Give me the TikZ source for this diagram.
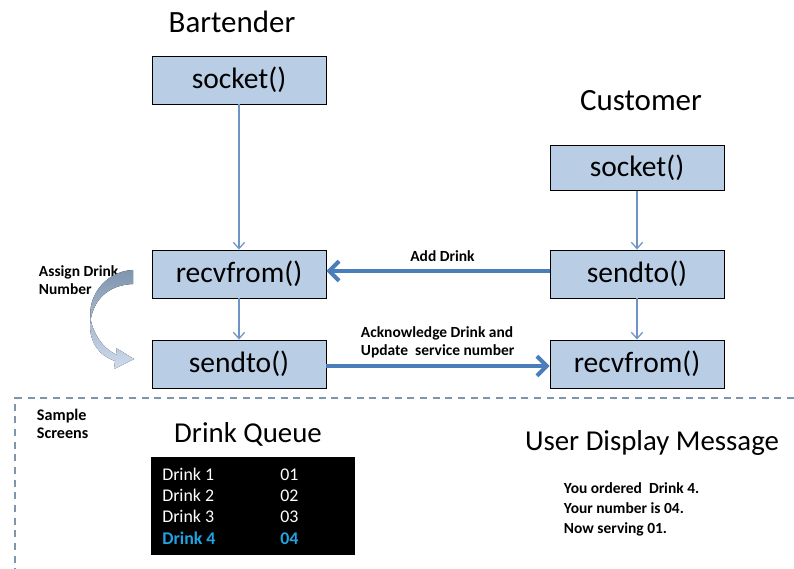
\documentclass[tikz,border=0pt]{standalone}
\usepackage{fontspec}
\setmainfont{Carlito}
\usetikzlibrary{arrows.meta}
\definecolor{callfill}{HTML}{B9CDE5}
\definecolor{flowblue}{HTML}{4A7EBB}
\definecolor{thinblue}{HTML}{6F95C6}
\definecolor{sepblue}{HTML}{7F95AE}
\definecolor{queueblue}{HTML}{21A3E2}

\begin{document}
\begin{tikzpicture}[x=0.025cm,y=-0.025cm,
    call/.style={draw=black, line width=0.6pt, fill=callfill, minimum width=4.35cm,
      minimum height=1.2cm, inner sep=0pt, font=\fontsize{21}{24}\selectfont},
    title/.style={font=\fontsize{22}{26}\selectfont},
    note/.style={text=black, font=\fontsize{11}{12.8}\selectfont\bfseries, align=left},
    queue/.style={white, anchor=base west, inner sep=0pt, font=\fontsize{12.7}{14}\selectfont},
    step arrow/.style={thinblue, line width=0.9pt, -{Straight Barb[length=4.5pt, width=8pt]}},
    msg arrow/.style={flowblue, line width=2.8pt, -{Straight Barb[length=7pt, width=14pt]}}]
        \useasboundingbox (0,0) rectangle (794,569);

        % Bartender side
        \node[title] (bartitle) at (232,22) {Bartender};
        \node[call] (bsocket) at (239,80) {socket()};
        \node[call] (brecv) at (239,274) {recvfrom()};
        \node[call] (bsend) at (239,364) {sendto()};

        % Customer side
        \node[title] (custitle) at (641,101) {Customer};
        \node[call, minimum height=1.13cm] (csocket) at (637,168) {socket()};
        \node[call] (csend) at (637,274) {sendto()};
        \node[call] (crecv) at (637,364) {recvfrom()};

        % Steps on each side
        \draw[step arrow] (bsocket) -- (brecv);
        \draw[step arrow] (brecv) -- (bsend);
        \draw[step arrow] (csocket) -- (csend);
        \draw[step arrow] (csend) -- (crecv);

        % Messages between them
        \draw[msg arrow] (csend.west |- 0,271) -- (brecv.east |- 0,271)
          node[note, pos=0.48, above=2pt] (addlbl) {Add Drink};
        \draw[msg arrow] (bsend.east |- 0,366) -- (crecv.west |- 0,366);
        \node[note, anchor=south west] (acklbl) at (356,363)
          {Acknowledge Drink and\\Update~ service number};

        % Assign drink number
        \node[note, anchor=north west] (assignlbl) at (34,261) {Assign Drink\\Number};
        \fill[top color=sepblue, bottom color=callfill!70, draw=none]
          (133,270) .. controls (104,271) and (84,300) .. (92,325)
          .. controls (97,340) and (106,350) .. (117,355)
          -- (116,348) -- (134,359) -- (114,369) -- (115,361)
          .. controls (98,355) and (90,342) .. (90,325)
          .. controls (92,300) and (108,285) .. (133,284) -- cycle;

        % Sample screens
        \draw[sepblue, line width=0.8pt, dash pattern=on 5pt off 4pt]
          (794,398) -- (15,398) -- (15,569);
        \node[note, font=\fontsize{11.5}{13}\selectfont\bfseries, anchor=north west]
          (samplelbl) at (32,404) {Sample\\Screens};

        \node[title, font=\fontsize{20.5}{24}\selectfont] (queuetitle) at (248,434) {Drink Queue};
        \fill[black] (151,457) rectangle (355,555);
        \foreach \i/\yy in {1/480,2/501,3/522} {
          \node[queue] (drink\i) at (162,\yy) {Drink \i};
          \node[queue] (num\i) at (280,\yy) {0\i};
        }
        \node[queue, queueblue, font=\fontsize{12.7}{14}\selectfont\bfseries] (drink4) at (162,544) {Drink 4};
        \node[queue, queueblue, font=\fontsize{12.7}{14}\selectfont\bfseries] (num4) at (280,544) {04};

        \node[title, font=\fontsize{20.5}{24}\selectfont] (usertitle) at (652,443) {User Display Message};
        \node[note, anchor=north west, font=\fontsize{11}{14.2}\selectfont\bfseries] (usermsg) at (559,478)
          {You ordered~ Drink 4.\\Your number is 04.\\Now serving 01.};
    \end{tikzpicture}
\end{document}
